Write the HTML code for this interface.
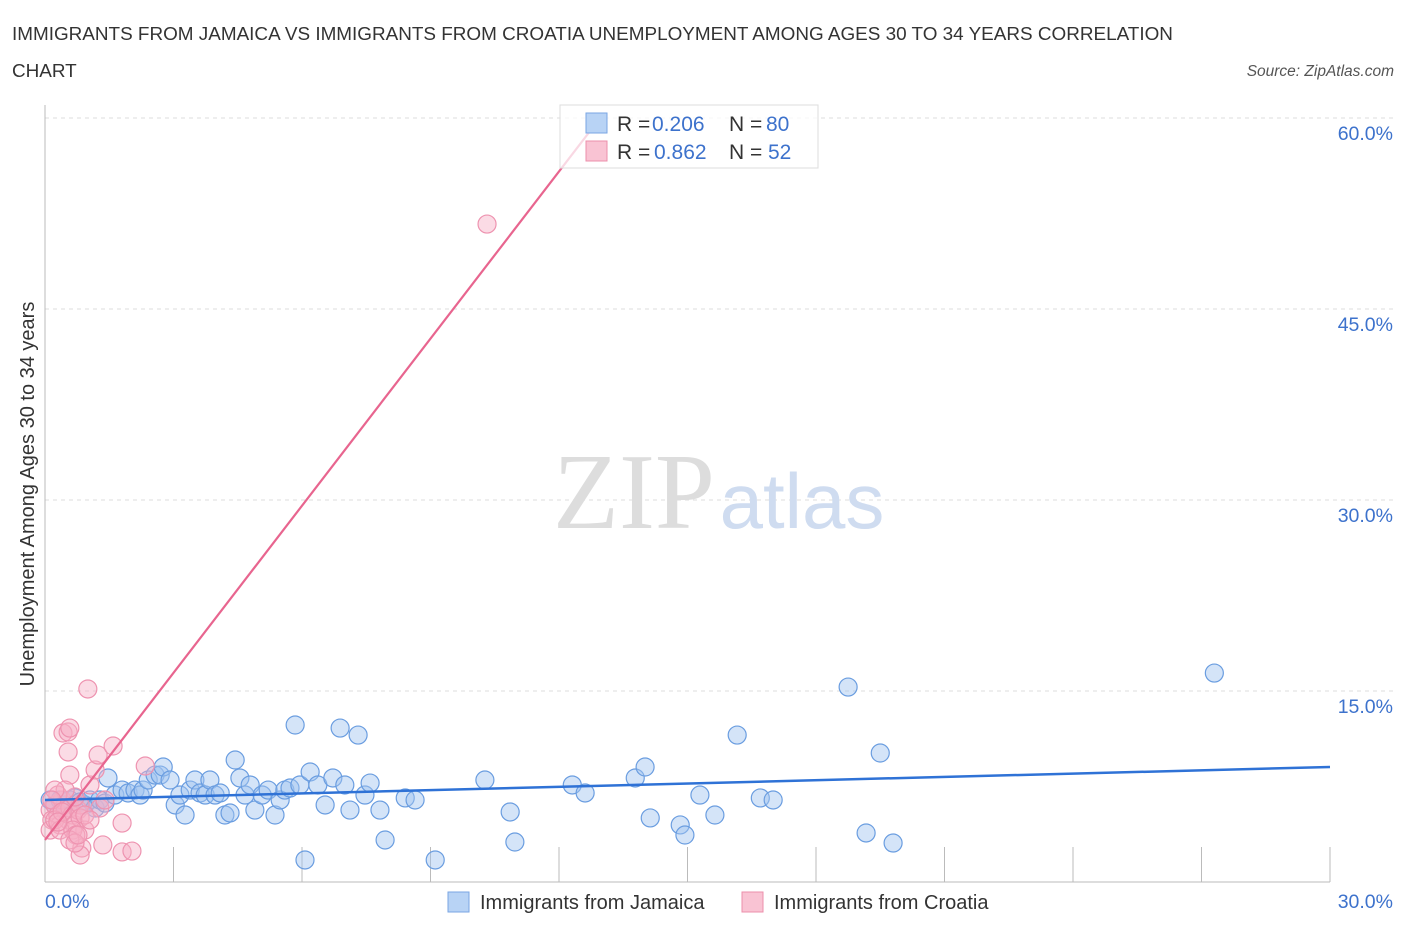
<!DOCTYPE html>
<html><head><meta charset="utf-8"><style>
body{margin:0;background:#fff;font-family:"Liberation Sans",sans-serif;}
svg{display:block}
</style></head><body>
<svg width="1406" height="930" xmlns="http://www.w3.org/2000/svg">
<text x="12" y="40" font-size="18.9" fill="#333">IMMIGRANTS FROM JAMAICA VS IMMIGRANTS FROM CROATIA UNEMPLOYMENT AMONG AGES 30 TO 34 YEARS CORRELATION</text>
<text x="12" y="77" font-size="18.9" fill="#333">CHART</text>
<text x="1394" y="76" font-size="15.5" fill="#555" font-style="italic" text-anchor="end">Source: ZipAtlas.com</text>
<g id="grid"></g>
<text x="634" y="528" font-size="108" fill="#ddd" font-family="Liberation Serif,serif" text-anchor="middle">ZIP</text>
<text x="802" y="528" font-size="78" fill="#cfdcf0" text-anchor="middle">atlas</text>
<g id="axes"></g>
<g id="pts"></g>
<g id="lines"></g>
<text transform="translate(34,494) rotate(-90)" font-size="20" fill="#333" text-anchor="middle">Unemployment Among Ages 30 to 34 years</text>
<g>
<rect x="560" y="105" width="258" height="63" fill="rgba(255,255,255,0.75)" stroke="#ddd"/>
<rect x="586" y="113" width="21" height="20" fill="#b8d3f5" stroke="#7aa6e3"/>
<rect x="586" y="141" width="21" height="20" fill="#f9c3d3" stroke="#ec8fab"/>
<g font-size="21" fill="#333">
<text x="617" y="131">R =</text><text x="652" y="131" fill="#3d72cc">0.206</text><text x="729" y="131">N =</text><text x="766" y="131" fill="#3d72cc">80</text></g>
<g font-size="21" fill="#333">
<text x="617" y="159">R =</text><text x="654" y="159" fill="#3d72cc">0.862</text><text x="729" y="159">N =</text><text x="768" y="159" fill="#3d72cc">52</text></g>
</g>
<g>
<rect x="448" y="892" width="21" height="20" fill="#b8d3f5" stroke="#7aa6e3"/>
<text x="480" y="909" font-size="20" fill="#333">Immigrants from Jamaica</text>
<rect x="742" y="892" width="21" height="20" fill="#f9c3d3" stroke="#ec8fab"/>
<text x="774" y="909" font-size="20" fill="#333">Immigrants from Croatia</text>
</g>
</svg>
<script>
const yTicks=[15,30,45,60];
const yTickLabels=["15.0%","30.0%","45.0%","60.0%"];
const xTickLabels=["0.0%","30.0%"];
const jamaica=[[.12,6.44],[.23,6.05],[.35,6.44],[.47,6.05],[.58,6.44],[.70,6.60],[.82,6.28],[.93,6.05],[1.05,6.44],[1.17,5.81],[1.28,6.44],[1.40,6.20],[1.47,8.17],[1.63,6.83],[1.80,7.22],[1.94,6.99],[2.10,7.22],[2.22,6.83],[2.29,7.22],[2.41,8.01],[2.57,8.40],[2.69,8.40],[2.76,9.03],[2.92,8.01],[3.04,6.05],[3.15,6.83],[3.27,5.26],[3.39,7.22],[3.50,8.01],[3.62,6.99],[3.74,6.83],[3.85,8.01],[3.97,6.83],[4.09,6.99],[4.20,5.26],[4.32,5.42],[4.44,9.58],[4.55,8.17],[4.67,6.83],[4.79,7.62],[4.90,5.65],[5.07,6.83],[5.21,7.22],[5.37,5.26],[5.49,6.44],[5.60,7.22],[5.72,7.38],[5.84,12.33],[5.95,7.62],[6.07,1.73],[6.19,8.64],[6.37,7.62],[6.54,6.05],[6.72,8.17],[6.89,12.09],[7.00,7.62],[7.12,5.65],[7.31,11.54],[7.47,6.83],[7.59,7.77],[7.82,5.65],[7.94,3.30],[8.41,6.60],[8.64,6.44],[9.11,1.73],[10.27,8.01],[10.86,5.50],[10.97,3.14],[12.31,7.62],[12.61,6.99],[13.78,8.17],[14.01,9.03],[14.13,5.03],[14.83,4.48],[14.94,3.69],[15.29,6.83],[15.64,5.26],[16.16,11.54],[16.70,6.60],[17.00,6.44],[18.75,15.31],[19.17,3.85],[19.50,10.13],[19.80,3.06],[27.30,16.41]];
const croatia=[[.12,5.65],[.16,4.87],[.23,6.05],[.30,5.26],[.35,4.48],[.40,6.44],[.47,5.65],[.54,4.87],[.58,5.81],[.63,5.26],[.70,4.48],[.77,5.65],[.82,6.05],[.12,4.08],[.23,4.87],[.35,4.08],[.42,11.70],[.54,11.78],[.58,12.09],[.54,10.21],[.58,8.40],[.70,6.68],[.82,5.03],[.93,4.08],[.86,2.67],[.82,2.12],[1.00,15.16],[1.05,7.62],[1.17,8.80],[1.24,9.97],[1.28,5.81],[1.35,2.91],[1.40,6.44],[1.59,10.68],[1.80,4.63],[1.80,2.36],[2.03,2.43],[2.34,9.11],[10.32,51.67],[.65,4.08],[.72,3.69],[.93,5.26],[1.05,4.87],[.30,6.83],[.47,7.22],[.23,7.22],[.16,6.44],[.58,3.30],[.70,3.06],[.77,3.69],[.40,5.50],[.30,4.71]];
const jamaicaTrend=[6.44,9.03]; // y at x=0 and x=30
const croatiaTrend=[3.3,4.375]; // intercept, slope
const X0=45,X1=1330,Y0=882,YPER=191/15;
const sx=v=>X0+(X1-X0)*v/30, sy=v=>Y0-v*YPER;
const NS="http://www.w3.org/2000/svg";
function mk(t,a,p){const e=document.createElementNS(NS,t);for(const k in a)e.setAttribute(k,a[k]);p.appendChild(e);return e;}
const grid=document.getElementById('grid'),axes=document.getElementById('axes');
yTicks.forEach((t,i)=>{
 const l=mk('line',{x1:X0,x2:1395,y1:sy(t),y2:sy(t),stroke:'#ddd','stroke-dasharray':'4,4'},grid);
 
 
 const tx=mk('text',{x:1393,y:sy(t)+22,'font-size':19.5,fill:'#3d72cc','text-anchor':'end'},axes);
 tx.textContent=yTickLabels[i];
 
 
});
const ya=mk('line',{x1:X0,x2:X0,y1:105,y2:Y0,stroke:'#bbb'},axes);


const xa=mk('line',{x1:X0,x2:X1,y1:Y0,y2:Y0,stroke:'#bbb'},axes);


for(let i=1;i<=10;i++){
 const tk=mk('line',{x1:sx(i*3),x2:sx(i*3),y1:Y0-35,y2:Y0,stroke:'#bbb'},axes);
 
 
}
[[0,'start',45],[30,'end',1393]].forEach((d,i)=>{
 const tx=mk('text',{x:d[2],y:908,'font-size':19.5,fill:'#3d72cc','text-anchor':d[1]},axes);
 tx.textContent=xTickLabels[i];
 
 
});
const pts=document.getElementById('pts');
jamaica.forEach(p=>{
 const c=mk('circle',{cx:sx(p[0]),cy:sy(p[1]),r:9,fill:'rgba(160,196,240,0.45)',stroke:'#6a9de0','stroke-width':1.2},pts);
 
 
});
croatia.forEach(p=>{
 const c=mk('circle',{cx:sx(p[0]),cy:sy(p[1]),r:9,fill:'rgba(247,175,198,0.45)',stroke:'#ee93b0','stroke-width':1.2},pts);
 
 
});
const lines=document.getElementById('lines');
const bl=mk('line',{x1:sx(0),y1:sy(jamaicaTrend[0]),x2:sx(30),y2:sy(jamaicaTrend[1]),stroke:'#2f72d6','stroke-width':2.5},lines);


const xe=(60-croatiaTrend[0])/croatiaTrend[1];
const pl=mk('line',{x1:sx(0),y1:sy(croatiaTrend[0]),x2:sx(xe),y2:sy(60),stroke:'#e8658f','stroke-width':2.2},lines);


</script>
</body></html>
